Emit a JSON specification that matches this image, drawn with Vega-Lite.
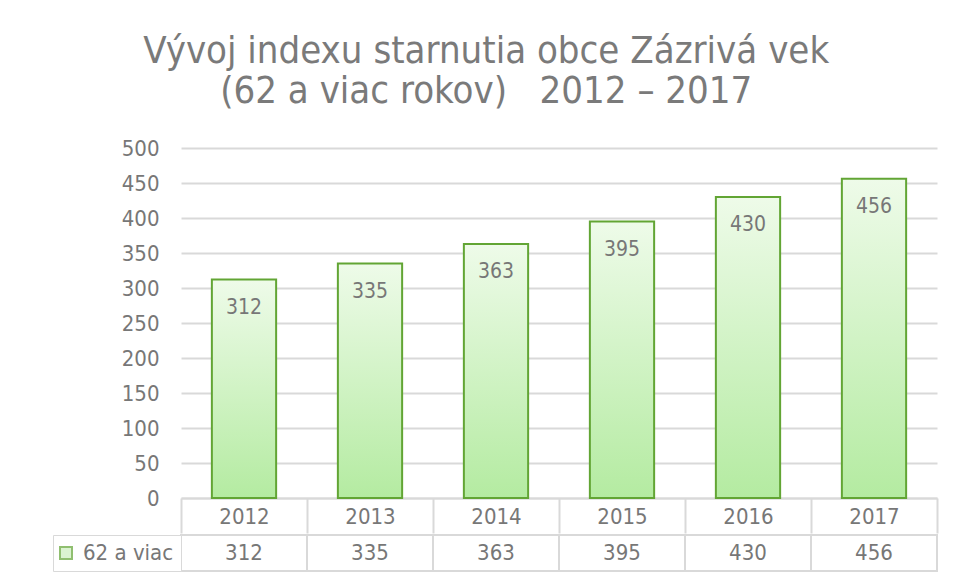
{
  "$schema": "https://vega.github.io/schema/vega-lite/v6.json",
  "padding": {"left": 52, "top": 33, "right": 5, "bottom": 5},
  "background": "white",
  "title": {
    "text": ["Vývoj indexu starnutia obce Zázrivá vek", "(62 a viac rokov)\u00a0\u00a0\u00a02012 – 2017"],
    "font": "DejaVu Sans Condensed",
    "fontSize": 38,
    "fontWeight": "normal",
    "color": "#7a7a7a",
    "lineHeight": 40,
    "anchor": "middle",
    "offset": 26,
    "dx": -9
  },
  "data": {
    "values": [
      {"year": "2012", "value": 312, "series": "62 a viac"},
      {"year": "2013", "value": 335, "series": "62 a viac"},
      {"year": "2014", "value": 363, "series": "62 a viac"},
      {"year": "2015", "value": 395, "series": "62 a viac"},
      {"year": "2016", "value": 430, "series": "62 a viac"},
      {"year": "2017", "value": 456, "series": "62 a viac"}
    ]
  },
  "config": {"font": "DejaVu Sans Condensed", "view": {"stroke": null}},
  "spacing": 0,
  "vconcat": [
    {
      "width": 756,
      "height": 350,
      "encoding": {
        "x": {
          "field": "year", "type": "ordinal",
          "scale": {"paddingInner": 0, "paddingOuter": 0},
          "axis": {
            "title": null, "labelAngle": 0, "tickBand": "extent",
            "tickSize": 35, "tickColor": "#d9d9d9", "tickWidth": 2,
            "domainColor": "#d9d9d9", "domainWidth": 2,
            "labelPadding": -17, "labelBaseline": "middle",
            "labelFontSize": 22, "labelColor": "#777777"
          }
        },
        "y": {
          "field": "value", "type": "quantitative",
          "scale": {"domain": [0, 500]},
          "axis": {
            "title": null, "values": [0, 50, 100, 150, 200, 250, 300, 350, 400, 450, 500],
            "labelOverlap": false,
            "domain": false, "ticks": false, "grid": true,
            "gridColor": "#d9d9d9", "gridWidth": 2,
            "labelPadding": 22, "labelFontSize": 22, "labelColor": "#777777"
          }
        }
      },
      "layer": [
        {
          "mark": {
            "type": "bar",
            "width": {"band": 0.51},
            "stroke": "#62a534",
            "strokeWidth": 2,
            "color": {
              "gradient": "linear",
              "x1": 0, "y1": 0, "x2": 0, "y2": 1,
              "stops": [
                {"offset": 0, "color": "#eefbe9"},
                {"offset": 1, "color": "#b4eba1"}
              ]
            }
          }
        },
        {
          "mark": {"type": "text", "dy": 34, "baseline": "alphabetic", "fontSize": 21, "color": "#777777"},
          "encoding": {"text": {"field": "value"}}
        }
      ]
    },
    {
      "width": 756,
      "height": 36,
      "encoding": {
        "x": {"field": "year", "type": "ordinal", "axis": null}
      },
      "layer": [
        {
          "mark": {"type": "point", "filled": true, "fill": "#cdeebe", "stroke": "#62a534", "strokeWidth": 2, "size": 144},
          "encoding": {
            "shape": {
              "field": "series", "type": "nominal",
              "scale": {"range": ["square"]},
              "legend": {
                "title": null, "orient": "left", "offset": 0, "padding": 7,
                "strokeColor": "#d9d9d9", "fillColor": "#ffffff",
                "symbolSize": 144, "symbolStrokeWidth": 2,
                "labelFontSize": 22, "labelColor": "#777777", "labelOffset": 6,
                "symbolOffset": -5
              }
            }
          }
        },
        {
          "mark": {"type": "rect", "stroke": "#d9d9d9", "strokeWidth": 2, "fill": "#ffffff"}
        },
        {
          "mark": {"type": "text", "fontSize": 22, "color": "#777777"},
          "encoding": {"text": {"field": "value"}}
        }
      ]
    }
  ],
  "resolve": {"scale": {"shape": "independent"}, "legend": {"shape": "independent"}}
}
